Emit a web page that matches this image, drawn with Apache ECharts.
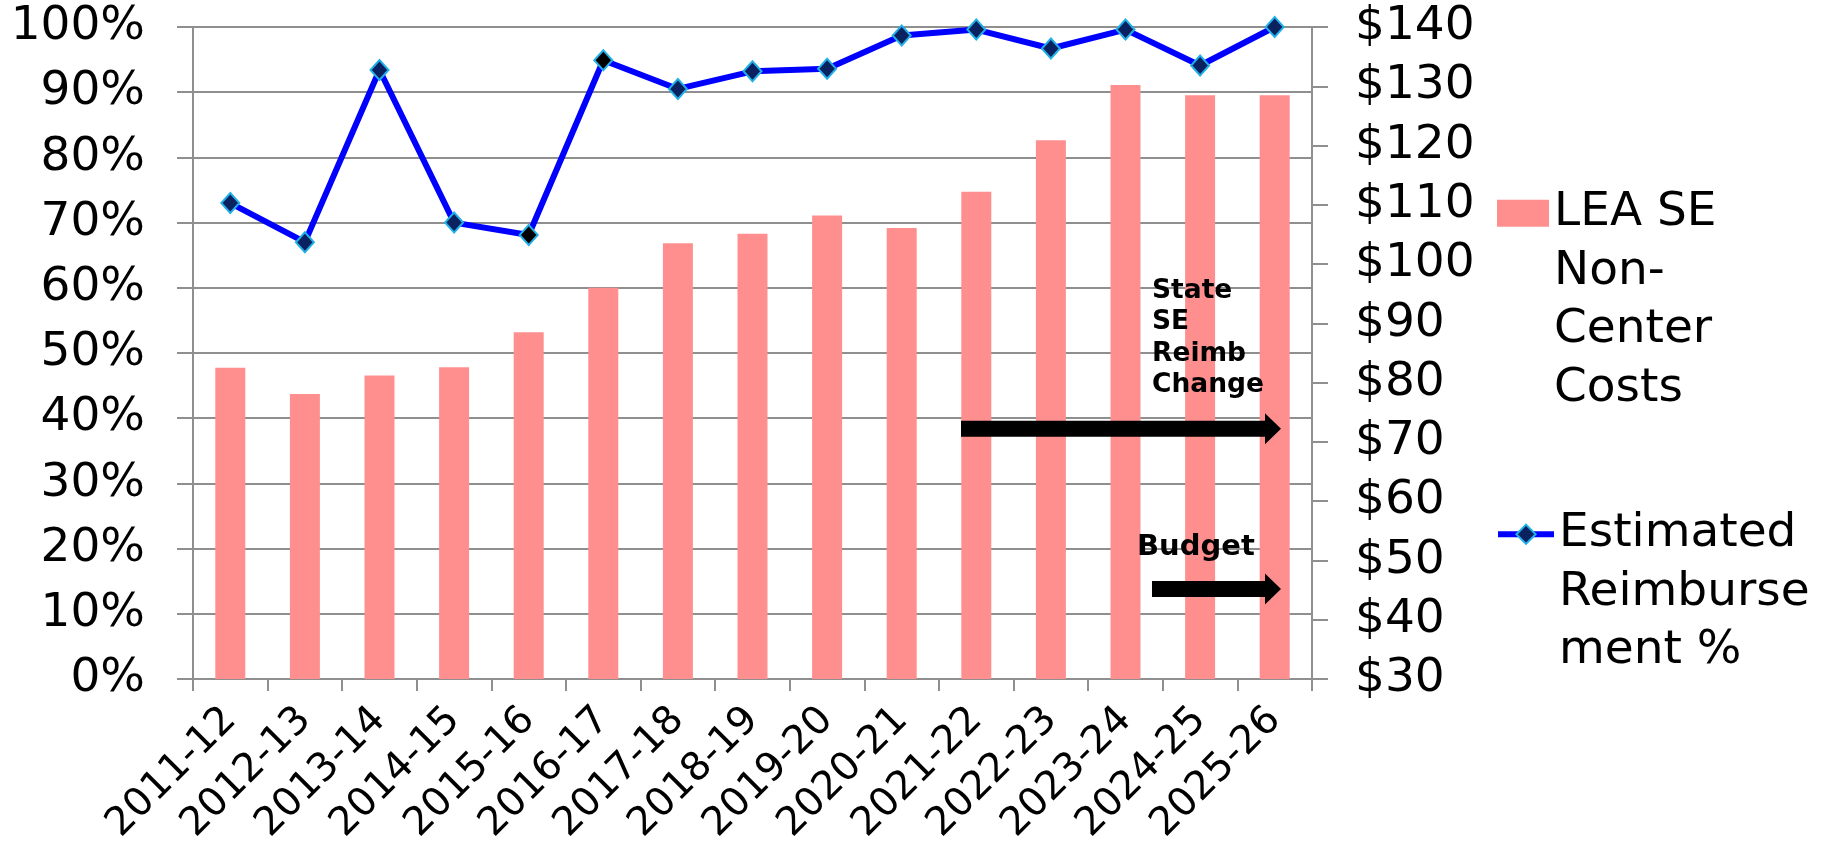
<!DOCTYPE html>
<html>
<head>
<meta charset="utf-8">
<title>LEA SE Non-Center Costs and Estimated Reimbursement %</title>
<script src="https://cdn.jsdelivr.net/npm/echarts@6/dist/echarts.min.js"></script>
<style>
  html, body { margin: 0; padding: 0; background: #fff; }
  #chart { width: 1829px; height: 846px; }
</style>
</head>
<body>
<div id="chart"></div>
<script>
// data
const years = ['2011-12', '2012-13', '2013-14', '2014-15', '2015-16', '2016-17', '2017-18', '2018-19',
  '2019-20', '2020-21', '2021-22', '2022-23', '2023-24', '2024-25', '2025-26']
const costs = [82.5, 78.1, 81.2, 82.6, 88.5, 96.0, 103.5, 105.1, 108.2, 106.1, 112.2, 120.9, 130.2, 128.5, 128.5]
const reimbPct = [73.0, 67.0, 93.4, 70.0, 68.1, 94.9, 90.5, 93.2, 93.6, 98.7, 99.6, 96.7, 99.6, 94.1, 100]
const blackMarkerYears = ['2015-16', '2016-17']

const pctRange = [0, 100, 10]
const costRange = [30, 140, 10]

const costName = 'LEA SE Non-Center Costs'
const pctName = 'Estimated Reimbursement %'
const legendLines = {
  [costName]: ['LEA SE', 'Non-', 'Center', 'Costs'],
  [pctName]: ['Estimated', 'Reimburse', 'ment %']
}

const FONT = '"DejaVu Sans", Verdana, sans-serif'
const GRID_GRAY = '#8f8f8f'
const BAR_PINK = '#ff8f8f'
const LINE_BLUE = '#0000ff'

// pad with blank lines so the first line sits level with the legend icon
const legendText = (name) => {
  const lines = legendLines[name]
  return new Array(lines.length - 1).fill('').concat(lines).join('\n')
}

// right-pointing block arrow
const arrowPoints = (x0, x1, yc, shaft, head, headLen) => [
  [x0, yc - shaft / 2], [x1 - headLen, yc - shaft / 2], [x1 - headLen, yc - head / 2],
  [x1, yc], [x1 - headLen, yc + head / 2], [x1 - headLen, yc + shaft / 2], [x0, yc + shaft / 2]
]

const chart = echarts.init(document.getElementById('chart'), null, { renderer: 'canvas' })

const legendCommon = {
  orient: 'vertical',
  padding: 0,
  selectedMode: false,
  formatter: legendText,
  textStyle: { fontFamily: FONT, fontSize: 47, lineHeight: 58.5, color: '#000' }
}

const option = {
  backgroundColor: '#fff',
  animation: false,
  textStyle: { fontFamily: FONT },
  grid: { left: 193, top: 27, width: 1119, height: 652, outerBoundsMode: 'none', containLabel: false },
  legend: [
    Object.assign({}, legendCommon, {
      data: [{ name: costName, icon: 'rect' }],
      left: 1497, top: 8.5, itemWidth: 52, itemHeight: 27
    }),
    Object.assign({}, legendCommon, {
      data: [pctName],
      left: 1495, top: 388, itemWidth: 56, itemHeight: 24,
      lineStyle: { width: 6, color: LINE_BLUE }
    })
  ],
  xAxis: {
    type: 'category',
    data: years,
    boundaryGap: true,
    axisLine: { show: true, lineStyle: { color: GRID_GRAY, width: 2 } },
    axisTick: { show: true, length: 12, interval: 0, lineStyle: { color: GRID_GRAY, width: 2 } },
    axisLabel: { interval: 0, rotate: 45, margin: 35, fontSize: 39.5, color: '#000', fontFamily: FONT },
    splitLine: { show: false }
  },
  yAxis: [
    {
      type: 'value',
      position: 'left',
      min: pctRange[0], max: pctRange[1], interval: pctRange[2],
      axisLine: { show: true, lineStyle: { color: GRID_GRAY, width: 2 } },
      axisTick: { show: true, length: 16, lineStyle: { color: GRID_GRAY, width: 2 } },
      axisLabel: { formatter: '{value}%', fontSize: 47, margin: 48, color: '#000', fontFamily: FONT },
      splitLine: { show: true, lineStyle: { color: GRID_GRAY, width: 2 } }
    },
    {
      type: 'value',
      position: 'right',
      min: costRange[0], max: costRange[1], interval: costRange[2],
      axisLine: { show: true, lineStyle: { color: GRID_GRAY, width: 2 } },
      axisTick: { show: true, length: 16, lineStyle: { color: GRID_GRAY, width: 2 } },
      axisLabel: { formatter: '${value}', fontSize: 47, margin: 43, color: '#000', fontFamily: FONT },
      splitLine: { show: false }
    }
  ],
  series: [
    {
      name: costName,
      type: 'bar',
      yAxisIndex: 1,
      data: costs,
      barWidth: 30,
      itemStyle: { color: BAR_PINK },
      z: 2
    },
    {
      name: pctName,
      type: 'line',
      yAxisIndex: 0,
      data: reimbPct.map((v, i) => blackMarkerYears.includes(years[i])
        ? { value: v, itemStyle: { color: '#000' } }
        : v),
      symbol: 'diamond',
      symbolSize: [18, 20],
      showAllSymbol: true,
      lineStyle: { color: LINE_BLUE, width: 6 },
      itemStyle: { color: '#0b2260', borderColor: '#22b0e8', borderWidth: 2 },
      z: 5
    }
  ],
  graphic: [
    {
      type: 'polygon', z: 100,
      shape: { points: arrowPoints(961, 1281, 428.7, 16, 31, 16) },
      style: { fill: '#000' }
    },
    {
      type: 'polygon', z: 100,
      shape: { points: arrowPoints(1152, 1281, 589, 16, 31, 16) },
      style: { fill: '#000' }
    },
    {
      type: 'text', z: 100, x: 1152, y: 275,
      style: {
        text: 'State\nSE\nReimb\nChange', fill: '#000',
        fontFamily: FONT, fontWeight: 'bold', fontSize: 26.5, lineHeight: 31.5,
        verticalAlign: 'top'
      }
    },
    {
      type: 'text', z: 100, x: 1137, y: 547,
      style: {
        text: 'Budget', fill: '#000',
        fontFamily: FONT, fontWeight: 'bold', fontSize: 29,
        verticalAlign: 'middle'
      }
    }
  ]
}

chart.setOption(option)

window.addEventListener('resize', () => {
  chart.resize()
})
</script>
</body>
</html>
